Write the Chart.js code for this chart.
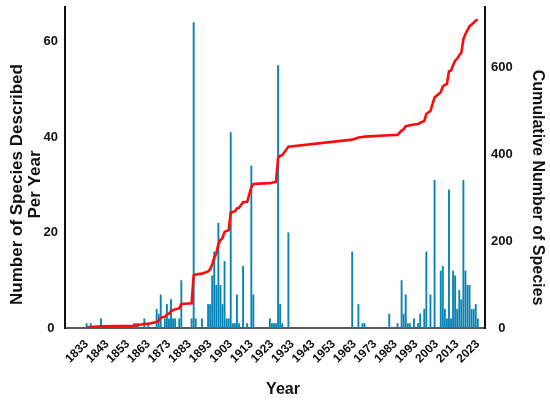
<!DOCTYPE html>
<html>
<head>
<meta charset="utf-8">
<script src="https://cdn.jsdelivr.net/npm/chart.js@4.4.1/dist/chart.umd.min.js"></script>
<style>
  html, body { margin: 0; padding: 0; background: #ffffff; }
  #wrap { width: 550px; height: 405px; }
</style>
</head>
<body>
<div id="wrap"><canvas id="c" width="550" height="405"></canvas></div>
<script>
// ---- data ----
const firstYear = 1833;
const lastYear = 2023;
const recordYears = [
  1833, 1835, 1840, 1856, 1857, 1858, 1861, 1863, 1867, 1868, 1869, 1871, 1872, 1873, 1874, 1875, 1876, 1878, 1879,
  1884, 1885, 1886, 1889, 1892, 1893, 1894, 1895, 1896, 1897, 1898, 1899, 1900, 1901, 1902, 1903, 1904, 1905, 1906,
  1907, 1909, 1911, 1913, 1914, 1922, 1923, 1924, 1925, 1926, 1927, 1928, 1931, 1962, 1965, 1967, 1968, 1980, 1984,
  1986, 1987, 1988, 1989, 1990, 1992, 1994, 1995, 1997, 1998, 2000, 2002, 2005, 2006, 2007, 2008, 2009, 2010, 2011,
  2012, 2013, 2014, 2015, 2016, 2017, 2018, 2019, 2020, 2021, 2022, 2023
];
const recordCounts = [
  1, 1, 2, 1, 1, 1, 2, 1, 4, 3, 7, 2, 5, 2, 6, 2, 2, 2, 10,
  2, 64, 2, 2, 5, 5, 11, 16, 9, 22, 9, 5, 14, 2, 2, 41, 1, 1, 7,
  1, 13, 1, 34, 7, 2, 1, 1, 1, 55, 5, 1, 20, 16, 5, 1, 1, 3, 1,
  10, 3, 7, 1, 1, 2, 1, 3, 4, 16, 7, 31, 12, 13, 4, 2, 29, 2, 12,
  11, 4, 8, 6, 31, 12, 9, 9, 4, 4, 5, 2
];
const xTickYears = [1833, 1843, 1853, 1863, 1873, 1883, 1893, 1903, 1913, 1923, 1933, 1943, 1953, 1963, 1973, 1983, 1993, 2003, 2013, 2023];
const leftTickValues = [0, 20, 40, 60];
const rightTickValues = [0, 200, 400, 600];
const leftTitle = ['Number of Species Described', 'Per Year'];
const rightTitle = 'Cumulative Number of Species';
const xTitle = 'Year';

// ---- build series ----
const allYears = [];
for (let y = firstYear; y <= lastYear; y++) allYears.push(y);
const perYear = allYears.map(y => {
  const k = recordYears.indexOf(y);
  return k >= 0 ? recordCounts[k] : 0;
});
// running total, plotted at the years in which species were described
let running = 0;
const cumulativeAtRecords = recordCounts.map(v => (running += v));

const barPoints = allYears.map((y, i) => ({ x: y, y: perYear[i] }));
const linePoints = recordYears.map((y, i) => ({ x: y, y: cumulativeAtRecords[i] }));

const FONT = '"Liberation Sans", Arial, sans-serif';
const TEXT = '#111111';

const axisTitles = {
  id: 'axisTitles',
  afterDraw(chart) {
    const { ctx, chartArea } = chart;
    const midY = (chartArea.top + chartArea.bottom) / 2;
    ctx.save();
    ctx.fillStyle = TEXT;
    ctx.textAlign = 'center';
    ctx.textBaseline = 'middle';
    ctx.font = 'bold 17px ' + FONT;
    leftTitle.forEach((line, i) => {
      ctx.save();
      ctx.translate(17 + i * 18.5, midY + 17);
      ctx.rotate(-Math.PI / 2);
      ctx.fillText(line, 0, 0);
      ctx.restore();
    });
    ctx.font = 'bold 16px ' + FONT;
    ctx.save();
    ctx.translate(537, midY + 20);
    ctx.rotate(Math.PI / 2);
    ctx.fillText(rightTitle, 0, 0);
    ctx.restore();
    ctx.fillText(xTitle, (chartArea.left + chartArea.right) / 2 + 8, 390);
    ctx.restore();
  }
};

const fitVertical = axis => {
  axis.width = 65;
  axis.paddingTop = 0;
  axis.paddingBottom = 0;
};

new Chart(document.getElementById('c'), {
  type: 'bar',
  data: {
    datasets: [
      {
        type: 'line',
        label: 'Cumulative',
        data: linePoints,
        yAxisID: 'y1',
        borderColor: '#ff0a0a',
        borderWidth: 2.6,
        pointRadius: 0,
        tension: 0,
        fill: false,
        order: 0
      },
      {
        type: 'bar',
        label: 'Per year',
        data: barPoints,
        yAxisID: 'y',
        backgroundColor: '#0a84b4',
        borderWidth: 0,
        barPercentage: 0.92,
        categoryPercentage: 1.0,
        order: 1
      }
    ]
  },
  options: {
    responsive: false,
    animation: false,
    devicePixelRatio: 1,
    layout: { padding: { top: 7, left: 0, right: 0, bottom: 0 } },
    plugins: { legend: { display: false }, tooltip: { enabled: false } },
    scales: {
      x: {
        type: 'linear',
        offset: false,
        min: firstYear - 10.5,
        max: lastYear + 3.5,
        grid: { display: false, drawTicks: false },
        border: { display: true, color: '#5a5a5a', width: 2 },
        afterBuildTicks: axis => { axis.ticks = xTickYears.map(v => ({ value: v })); },
        afterFit: axis => { axis.height = 77; axis.paddingLeft = 0; axis.paddingRight = 0; },
        ticks: {
          autoSkip: false,
          minRotation: 45,
          maxRotation: 45,
          padding: 9,
          color: TEXT,
          font: { family: FONT, size: 12, weight: 'bold' },
          callback: v => String(v)
        }
      },
      y: {
        position: 'left',
        min: 0,
        max: 67.2,
        grid: { display: false, drawTicks: false },
        border: { display: true, color: '#111111', width: 2 },
        afterBuildTicks: axis => { axis.ticks = leftTickValues.map(v => ({ value: v })); },
        afterFit: fitVertical,
        ticks: {
          padding: 7,
          crossAlign: 'center',
          color: TEXT,
          font: { family: FONT, size: 13, weight: 'bold' },
          callback: v => String(v)
        }
      },
      y1: {
        position: 'right',
        min: 0,
        max: 738,
        grid: { display: false, drawTicks: false },
        border: { display: true, color: '#111111', width: 2 },
        afterBuildTicks: axis => { axis.ticks = rightTickValues.map(v => ({ value: v })); },
        afterFit: fitVertical,
        ticks: {
          padding: 6,
          crossAlign: 'center',
          color: TEXT,
          font: { family: FONT, size: 13, weight: 'bold' },
          callback: v => String(v)
        }
      }
    }
  },
  plugins: [axisTitles]
});
</script>
</body>
</html>
